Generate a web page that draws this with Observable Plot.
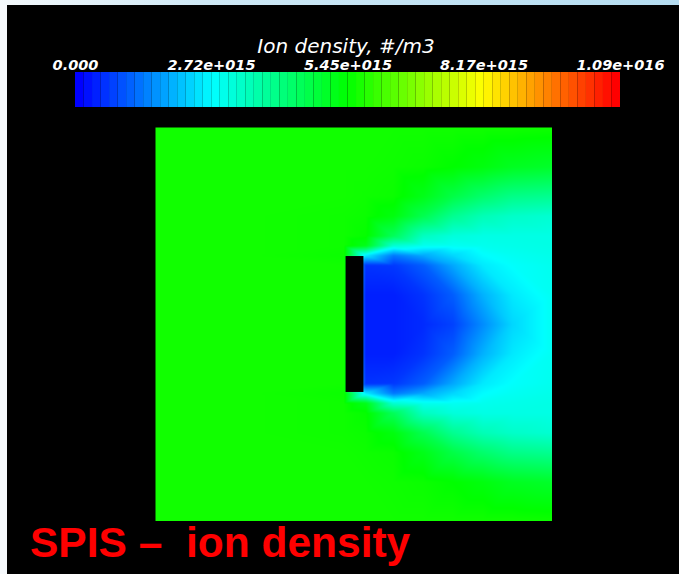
<!DOCTYPE html>
<html>
<head>
<meta charset="utf-8">
<script src="https://cdn.jsdelivr.net/npm/d3@7"></script>
<script src="https://cdn.jsdelivr.net/npm/@observablehq/plot@0.6"></script>
<style>
  html, body { margin: 0; padding: 0; background: #ffffff; }
  #page { position: relative; width: 679px; height: 574px; overflow: hidden; background: #f6f9fc; }
  #topstrip { position: absolute; left: 0; top: 0; width: 679px; height: 5px;
    background: linear-gradient(to right, #f4f9fc 0%, #cfe9f6 30%, #b5ddf1 100%); }
  #black { position: absolute; left: 7px; top: 5px; width: 672px; height: 569px; background: #000; }
  #cbar { position: absolute; left: 0; top: 0; }
  #field { position: absolute; left: 155px; top: 127px; }
  #caption { position: absolute; left: 30px; top: 522px; color: #ff0000;
    font-family: "Liberation Sans Narrow", "Liberation Sans", Arial, sans-serif;
    font-weight: bold; font-size: 42.5px; white-space: pre; line-height: 1; }
</style>
</head>
<body>
<div id="page">
  <div id="topstrip"></div>
  <div id="black"></div>
  <div id="cbar"></div>
  <div id="field"></div>
  <div id="caption">SPIS –  ion density</div>
</div>
<script>
// ---- data (ion density in units of 1e15 #/m3) ----
const colorbarTitle = "Ion density, #/m3";
const tickValues = [0, 2.72, 5.45, 8.17, 10.9];
const tickLabels = ["0.000", "2.72e+015", "5.45e+015", "8.17e+015", "1.09e+016"];
const densityMax = 10.9;

// sample grid (x: left→right, y: bottom→top, domain -1..1)
const gridX = [-1, -0.5, -0.05, 0.06, 0.2, 0.35, 0.5, 0.65, 0.8, 1];
const gridY = [1, 0.8, 0.65, 0.55, 0.45, 0.4, 0.35, 0.3, 0.15, 0,
               -0.15, -0.3, -0.35, -0.4, -0.45, -0.55, -0.65, -0.8, -1];
const densityRows = [
  [5.63, 5.63, 5.63, 5.63, 5.63, 5.63, 5.63, 5.63, 5.63, 5.60],
  [5.63, 5.63, 5.63, 5.63, 5.60, 5.56, 5.45, 5.30, 5.10, 5.00],
  [5.63, 5.63, 5.63, 5.60, 5.56, 5.20, 4.70, 4.30, 4.00, 3.90],
  [5.63, 5.63, 5.60, 5.56, 5.30, 4.60, 3.90, 3.50, 3.30, 3.20],
  [5.63, 5.63, 5.60, 5.50, 4.50, 3.40, 3.10, 3.00, 3.00, 3.00],
  [5.63, 5.63, 5.60, 5.20, 3.20, 2.90, 2.85, 2.90, 2.95, 3.00],
  [5.63, 5.63, 5.56, 2.50, 1.30, 1.80, 2.30, 2.70, 2.85, 2.95],
  [5.63, 5.63, 5.63, 0.55, 0.60, 1.00, 1.80, 2.50, 2.75, 2.90],
  [5.63, 5.63, 5.63, 0.33, 0.33, 0.55, 1.00, 1.90, 2.50, 2.85],
  [5.63, 5.63, 5.63, 0.33, 0.33, 0.45, 0.70, 1.50, 2.30, 2.85],
  [5.63, 5.63, 5.63, 0.33, 0.33, 0.55, 1.00, 1.90, 2.50, 2.85],
  [5.63, 5.63, 5.63, 0.55, 0.60, 1.00, 1.80, 2.50, 2.75, 2.90],
  [5.63, 5.63, 5.56, 2.50, 1.30, 1.80, 2.30, 2.70, 2.85, 2.95],
  [5.63, 5.63, 5.60, 5.20, 3.20, 2.90, 2.85, 2.90, 2.95, 3.00],
  [5.63, 5.63, 5.60, 5.50, 4.50, 3.40, 3.10, 3.00, 3.00, 3.00],
  [5.63, 5.63, 5.60, 5.56, 5.30, 4.60, 3.90, 3.50, 3.30, 3.20],
  [5.63, 5.63, 5.63, 5.60, 5.56, 5.20, 4.70, 4.30, 4.00, 3.90],
  [5.63, 5.63, 5.63, 5.63, 5.60, 5.56, 5.45, 5.30, 5.10, 5.00],
  [5.63, 5.63, 5.63, 5.63, 5.63, 5.63, 5.63, 5.63, 5.63, 5.60]
];
// spacecraft plate (black)
const plateX = [-0.04, 0.05];
const plateY = [-0.345, 0.345];
const colorbarSteps = 64;

// ---- build ----
const jet = t => d3.hsl(240 * (1 - t), 1, 0.5).toString();
const colorScale = {type: "linear", domain: [0, densityMax], interpolate: jet};

const samples = [];
gridY.forEach((y, j) => gridX.forEach((x, i) => samples.push({x, y, d: densityRows[j][i]})));

const bandW = densityMax / colorbarSteps;
const bands = d3.range(colorbarSteps).map(i => ({
  x1: i * bandW, x2: (i + 1) * bandW, v: densityMax * i / (colorbarSteps - 1)
}));

const cbar = Plot.plot({
  width: 679, height: 110,
  marginLeft: 75, marginRight: 59, marginTop: 72, marginBottom: 3,
  style: {background: "transparent", color: "white", overflow: "visible"},
  x: {domain: [0, densityMax], axis: null},
  color: colorScale,
  marks: [
    Plot.rect(bands, {x1: "x1", x2: "x2", fill: "v"}),
    Plot.text(tickValues, {x: d => d, text: (d, i) => tickLabels[i], frameAnchor: "top", dy: -13,
      fill: "white", fontSize: 14.5, fontWeight: "bold", fontStyle: "italic",
      fontFamily: "DejaVu Sans, sans-serif"}),
    Plot.text([colorbarTitle], {frameAnchor: "top", dx: -2, dy: -34, fill: "white", fontSize: 20,
      fontStyle: "italic", fontFamily: "DejaVu Sans, sans-serif"})
  ]
});
document.getElementById("cbar").appendChild(cbar);

const field = Plot.plot({
  width: 397, height: 394, margin: 0,
  style: {background: "transparent"},
  x: {domain: [-1, 1], axis: null},
  y: {domain: [-1, 1], axis: null},
  color: colorScale,
  marks: [
    Plot.raster(samples, {x: "x", y: "y", fill: "d", interpolate: "barycentric",
      x1: -1, x2: 1, y1: -1, y2: 1}),
    Plot.rect([0], {x1: () => plateX[0], x2: () => plateX[1], y1: () => plateY[0], y2: () => plateY[1], fill: "black"})
  ]
});
document.getElementById("field").appendChild(field);
</script>
</body>
</html>
